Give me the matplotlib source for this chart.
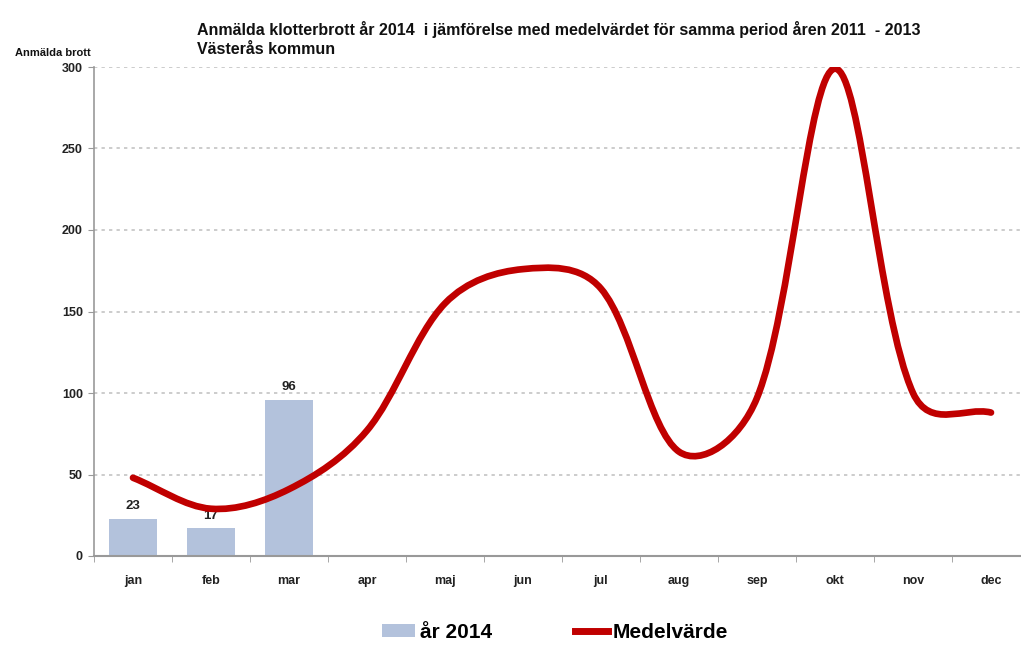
import numpy as np
import matplotlib
matplotlib.use("Agg")
import matplotlib.pyplot as plt
from matplotlib.path import Path
from matplotlib.patches import PathPatch, Patch
from matplotlib.lines import Line2D

months = ['jan', 'feb', 'mar', 'apr', 'maj', 'jun', 'jul', 'aug', 'sep', 'okt', 'nov', 'dec']
bar_values = [23, 17, 96]          # år 2014
mean_values = [48, 29, 41, 77, 155, 176, 164, 64, 97, 299, 100, 88]   # Medelvärde 2011-2013

bar_color = '#B3C2DC'
line_color = '#C00000'

plt.rcParams['font.family'] = ['Liberation Sans', 'DejaVu Sans']


def smooth_path(xs, ys, sx, sy, t=1/3, a=0.5):
    # bezier through the points, tangents weighted by chord length (in pixels)
    pts = np.column_stack([xs, ys]).astype(float)
    scale = np.array([sx, sy])
    n = len(pts)
    cp_in = [None] * n
    cp_out = [None] * n
    for i in range(n):
        p0 = pts[max(i - 1, 0)]
        p1 = pts[i]
        p2 = pts[min(i + 1, n - 1)]
        d01 = np.linalg.norm((p1 - p0) * scale) ** a
        d12 = np.linalg.norm((p2 - p1) * scale) ** a
        tot = d01 + d12
        fa = t * d01 / tot
        fb = t * d12 / tot
        cp_in[i] = p1 - fa * (p2 - p0)
        cp_out[i] = p1 + fb * (p2 - p0)
    verts = [tuple(pts[0])]
    codes = [Path.MOVETO]
    for i in range(n - 1):
        verts += [tuple(cp_out[i]), tuple(cp_in[i + 1]), tuple(pts[i + 1])]
        codes += [Path.CURVE4] * 3
    return Path(verts, codes)


fig = plt.figure(figsize=(10.21, 6.55), dpi=100)
ax = fig.add_axes([94/1021, 1 - 556/655, 936/1021, 489/655])

x = np.arange(len(months))
ax.bar(x[:len(bar_values)], bar_values, width=0.62, color=bar_color, zorder=2)
for xi, v in zip(x, bar_values):
    ax.text(xi, v + 4, str(v), ha='center', va='bottom', fontsize=9.5, fontweight='bold', color='#222222')

ax.add_patch(PathPatch(smooth_path(x, mean_values, 78.0, 1.63), fill=False, edgecolor=line_color,
                       lw=4.8, capstyle='round', joinstyle='round', zorder=3))

ax.set_xlim(-0.5, 11.5)
ax.set_ylim(0, 300)
ax.set_yticks(range(0, 301, 50))
ax.set_xticks(x)
ax.set_xticklabels(months)
ax.set_xticks(np.arange(-0.5, 12, 1), minor=True)
ax.tick_params(axis='x', which='major', length=0, pad=14, labelsize=9)
ax.tick_params(axis='x', which='minor', length=4, color='#999999', direction='out')
ax.tick_params(axis='y', length=4, color='#999999', labelsize=9, pad=4)
for lab in ax.get_xticklabels() + ax.get_yticklabels():
    lab.set_fontweight('bold')
    lab.set_color('#222222')

ax.grid(axis='y', linestyle=(0, (2, 2.5)), color='#c4c4c4', lw=1.2, zorder=0)
for s in ['top', 'right']:
    ax.spines[s].set_visible(False)
ax.spines['left'].set_color('#999999')
ax.spines['bottom'].set_color('#999999')
ax.spines['left'].set_linewidth(1.2)
ax.spines['bottom'].set_linewidth(1.5)

fig.text(197/1021, 1 - 30/655, 'Anmälda klotterbrott år 2014  i jämförelse med medelvärdet för samma period åren 2011  - 2013',
         fontsize=11.5, fontweight='bold', va='center', ha='left', color='#111111')
fig.text(197/1021, 1 - 49/655, 'Västerås kommun', fontsize=11.5, fontweight='bold', va='center', ha='left', color='#111111')
fig.text(15/1021, 1 - 53/655, 'Anmälda brott', fontsize=8, fontweight='bold', va='center', ha='left', color='#111111')

handles = [Patch(facecolor=bar_color, edgecolor='none'),
           Line2D([0], [0], color=line_color, lw=5)]
fig.legend(handles, ['år 2014', 'Medelvärde'], loc='center', bbox_to_anchor=(555/1021, 1 - 632/655),
           ncol=2, frameon=False, prop={'size': 15, 'weight': 'bold'}, columnspacing=4.0,
           handlelength=1.6, handleheight=0.6, handletextpad=0.2)

fig.savefig('out.png', dpi=100, facecolor='white')
